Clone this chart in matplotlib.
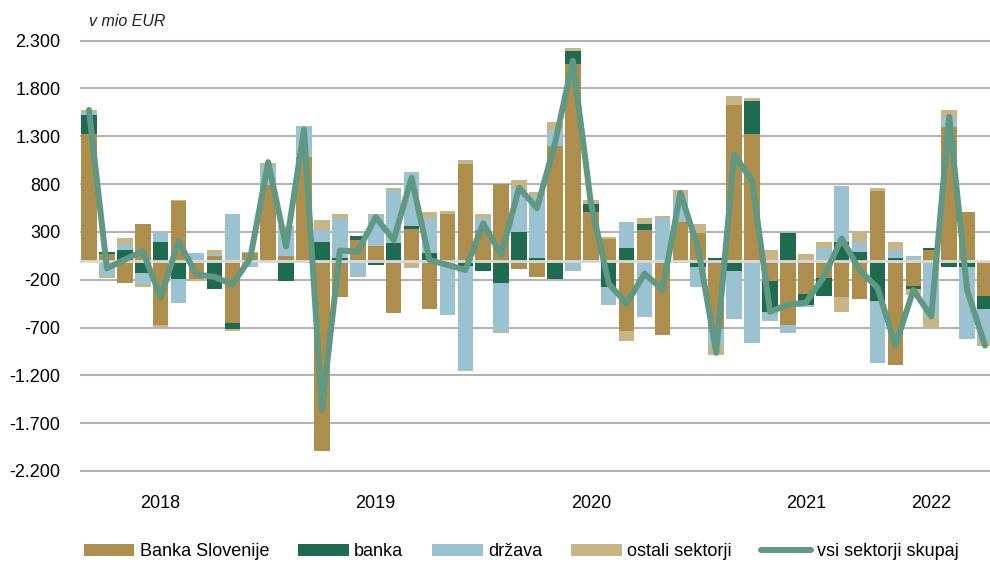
import numpy as np
import matplotlib.pyplot as plt
from matplotlib.ticker import FuncFormatter

plt.rcParams['font.family'] = ['Liberation Sans', 'DejaVu Sans']

# monthly flows, v mio EUR
banka_slovenije = [1324, 70, -237, 387, -669, 620, -192, 52, -655, 77,
                   790, 52, 1087, -1986, -383, 219, 157, -550, 327, -509,
                   490, 1010, 321, 801, -91, -174, 1195, 2056, 512, 230,
                   -732, 324, -777, 408, 286, -714, 1631, 1324, -216, -676,
                   -345, -178, -383, -404, 732, -1090, -261, 115, 1401, 505,
                   -366]
banka = [202, 20, 115, -132, 199, -195, 0, -300, -59, -24,
         0, -216, 0, 199, 31, 42, -49, 181, 38, 77,
         0, -52, -111, -237, 303, 31, -195, 139, 84, -279,
         136, 63, 0, -28, -70, 31, -111, 348, -317, 286,
         -115, -188, 199, 94, -425, 31, -38, 21, -70, -70,
         -143]
drzava = [28, -165, 59, -108, 105, -251, 77, 17, 491, -45,
          195, 296, 317, 122, 415, -157, 314, 557, 564, 373,
          -570, -1104, 125, -505, 456, 641, 171, -111, -24, -185,
          272, -592, 446, 254, -209, -167, -502, -864, -101, -66,
          -28, 136, 582, 105, -645, 84, 49, -592, 91, -753,
          -328]
ostali = [21, -15, 63, -38, -28, 17, -21, 45, -24, 17,
          35, 17, -28, 108, 45, -17, 21, 24, -73, 63,
          25, 45, 45, -17, 84, 42, 84, 28, 38, 14,
          -111, 59, 24, 77, 101, -105, 91, 24, 115, -17,
          73, 63, -150, 101, 28, 84, -66, -125, 84, 7,
          -52]
skupaj = [1575, -80, 10, 100, -385, 200, -145, -170, -250, 25,
          1030, 148, 1370, -1565, 105, 95, 455, 215, 865, 5,
          -45, -98, 388, 60, 762, 548, 1225, 2090, 610, -240,
          -450, -135, -305, 708, 125, -965, 1108, 835, -535, -462,
          -440, -172, 230, -100, -285, -888, -308, -585, 1505, -308,
          -890]

year_labels = ['2018', '2019', '2020', '2021', '2022']
year_pos = [4, 16, 28, 40, 47]

series = [
    (banka_slovenije, 'Banka Slovenije', '#AD8E4C'),
    (banka, 'banka', '#1F6B50'),
    (drzava, 'država', '#9BC2D1'),
    (ostali, 'ostali sektorji', '#C8B586'),
]

fig = plt.figure(figsize=(9.9, 5.65), dpi=100)
ax = fig.add_axes([80 / 990, 92.6 / 565, 914 / 990, 433.2 / 565])

x = np.arange(len(skupaj))
pos_base = np.zeros(len(x))
neg_base = np.zeros(len(x))
for vals, label, color in series:
    v = np.array(vals, dtype=float)
    base = np.where(v >= 0, pos_base, neg_base)
    ax.bar(x, v, 0.87, bottom=base, color=color, label=label, zorder=2)
    pos_base += np.clip(v, 0, None)
    neg_base += np.clip(v, None, 0)

ax.axhline(0, color='#D9D9D9', lw=2, zorder=3)
ax.plot(x, skupaj, color='#5F9883', lw=4.3, zorder=4, label='vsi sektorji skupaj',
        solid_joinstyle='round', solid_capstyle='round')

ax.set_ylim(-2215, 2315)
ax.set_yticks(np.arange(-2200, 2301, 500))
ax.yaxis.set_major_formatter(FuncFormatter(lambda v, p: f'{int(v):,}'.replace(',', '.')))
ax.grid(axis='y', color='#B4B4B4', lw=1.5, zorder=0)
ax.set_axisbelow(True)
ax.set_xlim(-0.5, 50.5)
ax.set_xticks(year_pos, year_labels)
ax.tick_params(length=0, labelsize=13, pad=14)
ax.tick_params(axis='x', pad=16)
for s in ax.spines.values():
    s.set_visible(False)

fig.text(89 / 990, 1 - 22 / 565, 'v mio EUR', fontsize=11.5, style='italic',
         va='center', ha='left', color='#222222')

handles, labels = ax.get_legend_handles_labels()
order = [1, 2, 3, 4, 0]
fig.legend([handles[i] for i in order], [labels[i] for i in order],
           ncol=5, loc='center', bbox_to_anchor=(521 / 990, 13 / 565),
           frameon=False, fontsize=13, handlelength=2.8, handleheight=0.6,
           handletextpad=0.3, columnspacing=1.6)

fig.savefig('out.png', dpi=100)
